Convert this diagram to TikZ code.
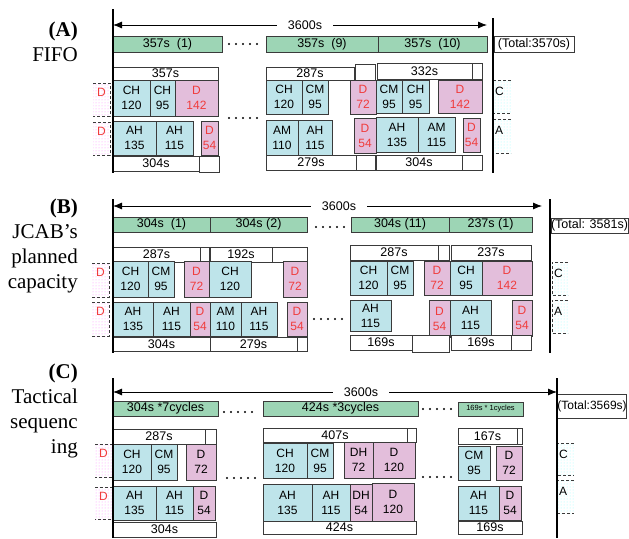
\documentclass[tikz,border=0pt]{standalone}
\usepackage{fontspec}
\setmainfont{Liberation Serif}
\setsansfont{Liberation Sans}
\usetikzlibrary{arrows.meta,patterns}
\definecolor{bargreen}{HTML}{9DD5B5}
\definecolor{acblue}{HTML}{BEE4EA}
\definecolor{dpink}{HTML}{E3BEDB}
\definecolor{dred}{HTML}{F03C3C}
\definecolor{edge}{HTML}{3A3A3A}
% one box: style, name, x1, y1, x2, y2, text (pixel coordinates)
\newcommand{\cell}[7]{%
  \node[#1,minimum width={(#5-#3)*1pt},minimum height={(#6-#4)*1pt}] (#2) at ({(#3+#5)/2},{(#4+#6)/2}) {#7};}
% dashed delay box on the left: name, x1, y1, x2, y2
\newcommand{\dside}[5]{%
  \fill[pattern=dots,pattern color=magenta!45] (#2,#3) rectangle (#4,#5);
  \draw[sidedash] (#2,#3) -- (#4,#3) -- (#4,#5) -- (#2,#5);
  \node[sidetxt,text=dred] (#1) at ({(#2+#4)/2},{#3+9.5}) {D};}
% dashed runway box on the right: name, x1, y1, x2, y2, letter
\newcommand{\rside}[6]{%
  \fill[pattern=dots,pattern color=cyan!40] (#2,#3) rectangle (#4,#5);
  \draw[sidedash] (#4,#3) -- (#2,#3) -- (#2,#5) -- (#4,#5);
  \node[sidetxt,anchor=west] (#1) at ({#2+2},{#3+11}) {#6};}
\newcommand{\gapdots}[2]{%
  \foreach \k in {-2,...,2} \fill (#1+\k*7,#2) circle (1.1pt);}
\begin{document}
\begin{tikzpicture}[x=1pt,y=-1pt,
  cellbox/.style={draw=edge,line width=0.8pt,inner sep=0pt,align=center,
    font=\sffamily\fontsize{12}{15}\selectfont},
  acbox/.style={cellbox,fill=acblue},
  dbox/.style={cellbox,fill=dpink,text=dred},
  dhbox/.style={cellbox,fill=dpink},
  barbox/.style={cellbox,fill=bargreen,font=\sffamily\fontsize{12.5}{14}\selectfont},
  hdrbox/.style={cellbox,fill=white,font=\sffamily\fontsize{12.5}{14}\selectfont},
  sidedash/.style={draw=edge,line width=0.9pt,dash pattern=on 3pt off 2pt},
  sidetxt/.style={inner sep=0pt,font=\sffamily\fontsize{12}{14}\selectfont},
  spantxt/.style={inner xsep=11pt,inner ysep=0pt,font=\sffamily\fontsize{12.5}{14}\selectfont},
  spanarr/.style={line width=0.8pt,-{Latex[length=9pt,width=7pt]}},
  caseno/.style={anchor=base east,align=right,inner sep=0pt,
    font=\rmfamily\fontsize{21}{25}\selectfont},
  timeline/.style={line width=1.8pt}]
\useasboundingbox (0,0) rectangle (629,538);

% ---------- (A) FIFO ----------
\node[caseno] (capA) at (78,61) {\textbf{(A)}\\FIFO};
\node[spantxt] (spanA) at (305,25) {3600s};
\coordinate (spA0) at (113,25);
\coordinate (spA1) at (487,25);
\draw[spanarr] (spanA.west) -- (spA0);
\draw[spanarr] (spanA.east) -- (spA1);

\cell{barbox}{gA1}{113}{36}{222}{52}{357s~~(1)}
\gapdots{243}{44}
\cell{barbox}{gA9}{266}{36}{378}{52}{357s~~(9)}
\cell{barbox}{gA10}{378}{36}{487}{52}{357s~~(10)}
\cell{hdrbox}{totA}{494}{36}{574}{52}{(Total:3570s)}

\cell{hdrbox}{hA1}{113}{67}{218}{80}{357s}
\cell{hdrbox}{hA2}{266}{67}{354}{80}{287s}
\cell{hdrbox}{hA2e}{355}{64}{375}{80}{}
\cell{hdrbox}{hA3}{377}{63}{472}{79}{332s}
\cell{hdrbox}{hA3e}{472}{63}{482}{79}{}

\cell{acbox}{cA1}{113}{80}{150}{116}{CH\\120}
\cell{acbox}{cA2}{150}{80}{175}{116}{CH\\95}
\cell{dbox}{cA3}{175}{80}{218}{116}{D\\142}
\cell{acbox}{cA4}{266}{80}{302}{114}{CH\\120}
\cell{acbox}{cA5}{302}{80}{328}{114}{CM\\95}
\cell{dbox}{cA6}{350}{80}{376}{114}{D\\72}
\cell{acbox}{cA7}{376}{80}{402}{113}{CM\\95}
\cell{acbox}{cA8}{402}{80}{429}{113}{CH\\95}
\cell{dbox}{cA9}{438}{80}{482}{113}{D\\142}
\gapdots{243}{118}

\cell{acbox}{aA1}{113}{121}{156}{155}{AH\\135}
\cell{acbox}{aA2}{156}{121}{193}{155}{AH\\115}
\cell{dbox}{aA3}{201}{121}{218}{155}{D\\54}
\cell{acbox}{aA4}{266}{120}{298}{155}{AM\\110}
\cell{acbox}{aA5}{298}{120}{332}{155}{AH\\115}
\cell{dbox}{aA6}{354}{118}{376}{153}{D\\54}
\cell{acbox}{aA7}{376}{117}{418}{152}{AH\\135}
\cell{acbox}{aA8}{418}{117}{455}{152}{AM\\115}
\cell{dbox}{aA9}{463}{118}{480}{152}{D\\54}

\cell{hdrbox}{bA1}{113}{156}{199}{171}{304s}
\cell{hdrbox}{bA1e}{199}{156}{219}{172}{}
\cell{hdrbox}{bA2}{266}{155}{356}{170}{279s}
\cell{hdrbox}{bA2e}{356}{155}{375}{170}{}
\cell{hdrbox}{bA3}{376}{155}{462}{170}{304s}
\cell{hdrbox}{bA3e}{462}{155}{482}{170}{}

\dside{dA1}{93}{83}{110}{116}
\dside{dA2}{93}{122}{110}{155}
\rside{rA1}{493}{80}{511}{113}{C}
\rside{rA2}{493}{119}{511}{153}{A}
\draw[timeline] (113,9) -- (113,173);
\draw[timeline] (493,18) -- (493,173);

% ---------- (B) JCAB's planned capacity ----------
\node[caseno] (capB) at (78,288) {\textbf{(B)}\\JCAB’s\\planned\\capacity};
\node[spantxt] (spanB) at (339,206) {3600s};
\coordinate (spB0) at (113,206);
\coordinate (spB1) at (542,206);
\draw[spanarr] (spanB.west) -- (spB0);
\draw[spanarr] (spanB.east) -- (spB1);

\cell{barbox}{gB1}{113}{217}{210}{232}{304s~~(1)}
\cell{barbox}{gB2}{210}{217}{307}{232}{304s (2)}
\gapdots{330}{227}
\cell{barbox}{gB11}{351}{217}{449}{232}{304s (11)}
\cell{barbox}{gB12}{449}{217}{532}{232}{237s (1)}
\cell{hdrbox}{totB}{551}{218}{628}{233}{(Total: 3581s)}

\cell{hdrbox}{hB1}{113}{247}{200}{262}{287s}
\cell{hdrbox}{hB1e}{200}{247}{209}{262}{}
\cell{hdrbox}{hB2}{210}{247}{272}{262}{192s}
\cell{hdrbox}{hB2e}{272}{247}{307}{262}{}
\cell{hdrbox}{hB3}{350}{245}{438}{260}{287s}
\cell{hdrbox}{hB3e}{438}{245}{449}{260}{}
\cell{hdrbox}{hB4}{451}{245}{531}{260}{237s}

\cell{acbox}{cB1}{113}{261}{148}{297}{CH\\120}
\cell{acbox}{cB2}{148}{261}{174}{297}{CM\\95}
\cell{dbox}{cB3}{184}{261}{209}{297}{D\\72}
\cell{acbox}{cB4}{209}{261}{251}{297}{CH\\120}
\cell{dbox}{cB5}{283}{261}{307}{297}{D\\72}
\cell{acbox}{cB6}{350}{261}{387}{295}{CH\\120}
\cell{acbox}{cB7}{387}{261}{413}{295}{CM\\95}
\cell{dbox}{cB8}{424}{261}{450}{295}{D\\72}
\cell{acbox}{cB9}{450}{261}{482}{295}{CH\\95}
\cell{dbox}{cB10}{482}{261}{532}{295}{D\\142}

\cell{acbox}{aB1}{113}{302}{153}{336}{AH\\135}
\cell{acbox}{aB2}{153}{302}{190}{336}{AH\\115}
\cell{dbox}{aB3}{190}{302}{210}{336}{D\\54}
\cell{acbox}{aB4}{210}{302}{241}{336}{AM\\110}
\cell{acbox}{aB5}{241}{302}{277}{336}{AH\\115}
\cell{dbox}{aB6}{287}{302}{307}{336}{D\\54}
\gapdots{328}{319}
\cell{acbox}{aB7}{350}{300}{391}{331}{AH\\115}
\cell{dbox}{aB8}{429}{300}{450}{337}{D\\54}
\cell{acbox}{aB9}{450}{300}{491}{336}{AH\\115}
\cell{dbox}{aB10}{512}{300}{532}{336}{D\\54}

\cell{hdrbox}{bB1}{113}{337}{210}{351}{304s}
\cell{hdrbox}{bB2}{210}{337}{297}{351}{279s}
\cell{hdrbox}{bB2e}{297}{337}{307}{351}{}
\cell{hdrbox}{bB3}{350}{335}{412}{350}{169s}
\cell{hdrbox}{bB3e}{412}{335}{449}{352}{}
\cell{hdrbox}{bB4}{451}{335}{511}{350}{169s}
\cell{hdrbox}{bB4e}{511}{335}{531}{350}{}

\dside{dB1}{92}{263}{109}{297}
\dside{dB2}{92}{302}{109}{336}
\rside{rB1}{552}{262}{568}{295}{C}
\rside{rB2}{552}{300}{568}{333}{A}
\draw[timeline] (113,199) -- (113,353);
\draw[timeline] (550,199) -- (550,353);

% ---------- (C) Tactical sequencing ----------
\node[caseno] (capC) at (78,453) {\textbf{(C)}\\Tactical\\sequenc\\ing};
\node[spantxt] (spanC) at (361,392) {3600s};
\coordinate (spC0) at (113,392);
\coordinate (spC1) at (557,392);
\draw[spanarr] (spanC.west) -- (spC0);
\draw[spanarr] (spanC.east) -- (spC1);

\cell{barbox}{gC1}{113}{401}{218}{416}{304s *7cycles}
\gapdots{238}{412}
\cell{barbox}{gC2}{263}{401}{418}{416}{424s *3cycles}
\gapdots{437}{409}
\cell{barbox,font=\sffamily\fontsize{7.5}{9}\selectfont}{gC3}{458}{402}{523}{416}{169s * 1cycles}
\cell{hdrbox,font=\sffamily\fontsize{12}{14}\selectfont}{totC}{558}{394}{626}{418}{(Total:3569s)}

\cell{hdrbox}{hC1}{113}{429}{205}{444}{287s}
\cell{hdrbox}{hC1e}{205}{429}{216}{444}{}
\cell{hdrbox}{hC2}{263}{428}{407}{442}{407s}
\cell{hdrbox}{hC2e}{407}{428}{416}{442}{}
\cell{hdrbox}{hC3}{458}{428}{517}{444}{167s}
\cell{hdrbox}{hC3e}{517}{428}{522}{444}{}

\cell{acbox}{cC1}{113}{444}{151}{480}{CH\\120}
\cell{acbox}{cC2}{151}{444}{177}{480}{CM\\95}
\cell{dhbox}{cC3}{186}{444}{216}{480}{D\\72}
\gapdots{241}{478}
\cell{acbox}{cC4}{263}{443}{307}{478}{CH\\120}
\cell{acbox}{cC5}{307}{443}{333}{478}{CM\\95}
\cell{dhbox}{cC6}{344}{442}{373}{478}{DH\\72}
\cell{dhbox}{cC7}{373}{442}{415}{478}{D\\120}
\gapdots{437}{477}
\cell{acbox}{cC8}{458}{446}{490}{480}{CM\\95}
\cell{dhbox}{cC9}{496}{446}{522}{480}{D\\72}

\cell{acbox}{aC1}{113}{486}{156}{520}{AH\\135}
\cell{acbox}{aC2}{156}{486}{193}{520}{AH\\115}
\cell{dhbox}{aC3}{193}{486}{215}{520}{D\\54}
\cell{acbox}{aC4}{263}{484}{312}{522}{AH\\135}
\cell{acbox}{aC5}{312}{484}{350}{522}{AH\\115}
\cell{dhbox}{aC6}{350}{484}{372}{522}{DH\\54}
\cell{dhbox}{aC7}{372}{483}{414}{521}{D\\120}
\cell{acbox}{aC8}{458}{486}{499}{520}{AH\\115}
\cell{dhbox}{aC9}{499}{486}{521}{520}{D\\54}

\cell{hdrbox}{bC1}{113}{522}{216}{537}{304s}
\cell{hdrbox}{bC2}{263}{521}{416}{534}{424s}
\cell{hdrbox}{bC3}{458}{521}{522}{534}{169s}

\dside{dC1}{95}{444}{112}{477}
\dside{dC2}{95}{487}{112}{519}
\rside{rC1}{557}{443}{574}{475}{C}
\rside{rC2}{557}{480}{574}{513}{A}
\draw[timeline] (113,378) -- (113,538);
\draw[timeline] (557,378) -- (557,538);
\end{tikzpicture}
\end{document}
